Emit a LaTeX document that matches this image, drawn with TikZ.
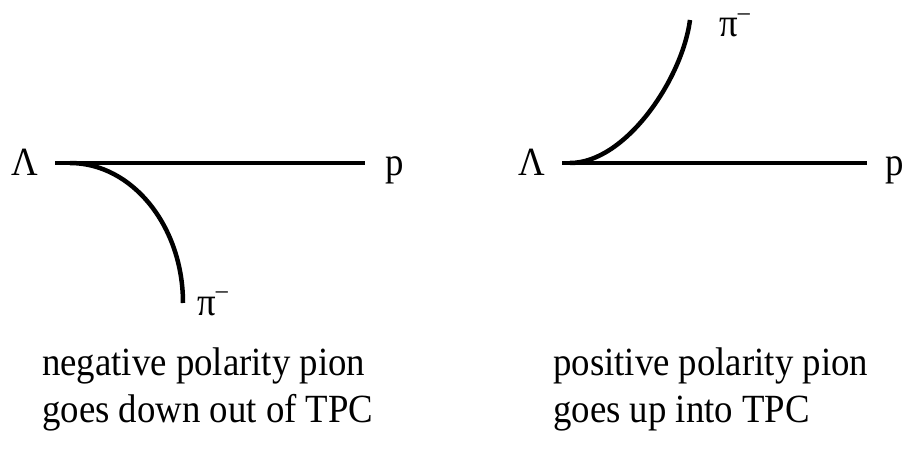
\documentclass[tikz,border=0pt]{standalone}
\usepackage{fontspec}
\setmainfont[FakeStretch=0.92]{Liberation Serif}
\newcommand{\pimin}{π\raisebox{0.42em}[0.55em][0pt]{\fontsize{26}{26}\selectfont –}}
\begin{document}
\begin{tikzpicture}[x=1pt,y=-1pt,
  track/.style={line width=4.5pt},
  lbl/.style={inner sep=0pt,anchor=base west,font=\fontsize{40}{46}\selectfont},
  captext/.style={inner sep=0pt,anchor=base west,align=left,font=\fontsize{40}{46.5}\selectfont}]
\useasboundingbox (0,0) rectangle (906,476);
% left diagram
\node[lbl] (lamL) at (11,176) {Λ};
\node[lbl] (pL) at (385,176) {p};
\node[lbl] (piL) at (197,315) {\pimin};
\coordinate (aL) at (55,163);
\coordinate (bL) at (365,163);
\coordinate (sL) at (70,163);
\coordinate (eL) at (183,303);
\draw[track] (aL) -- (bL);
\draw[track] (sL) .. controls (132,163) and (183,226) .. (eL);
% right diagram
\node[lbl] (lamR) at (518,176) {Λ};
\node[lbl] (pR) at (885,176) {p};
\node[lbl] (piR) at (719,37) {\pimin};
\coordinate (aR) at (562,163);
\coordinate (bR) at (867,163);
\coordinate (sR) at (570,163);
\coordinate (eR) at (690,20);
\draw[track] (aR) -- (bR);
\draw[track] (sR) .. controls (625,163) and (682,80) .. (eR);
% captions
\node[captext] (capL) at (42,422) {negative polarity pion\\goes down out of TPC};
\node[captext] (capR) at (553,422) {positive polarity pion\\goes up into TPC};
\end{tikzpicture}
\end{document}
